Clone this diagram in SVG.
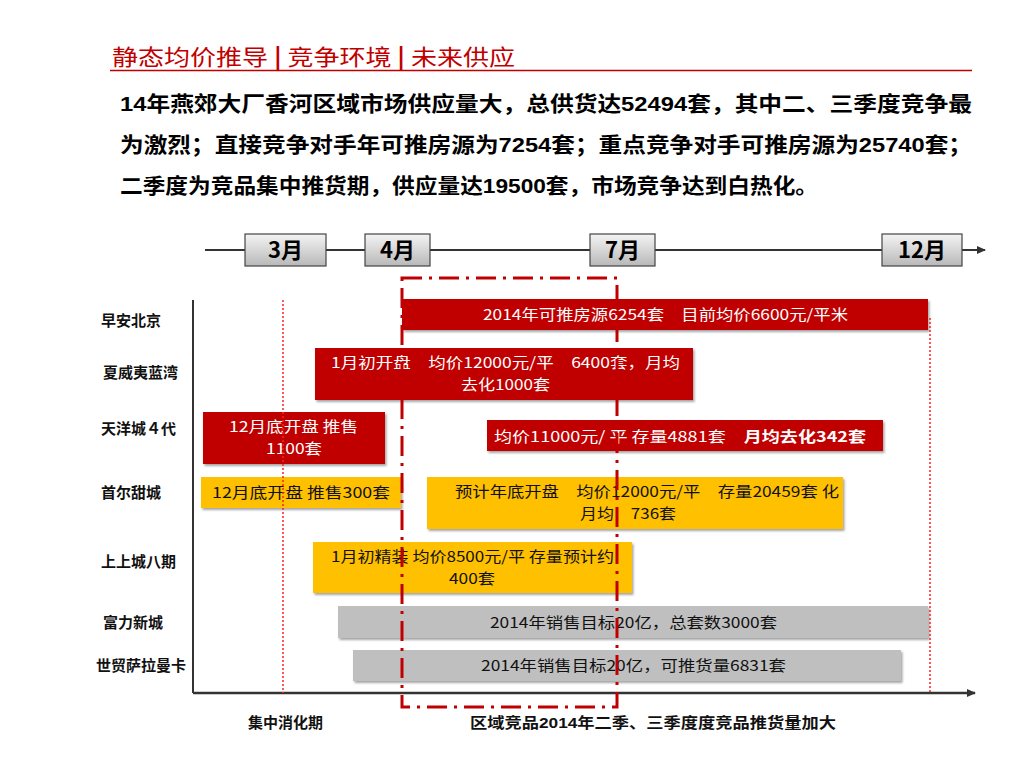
<svg xmlns="http://www.w3.org/2000/svg" width="1024" height="768" viewBox="0 0 1024 768">
<defs>
<linearGradient id="mg" x1="0" y1="0" x2="0" y2="1"><stop offset="0" stop-color="#f4f4f4"/><stop offset="1" stop-color="#b8b8b8"/></linearGradient>
<filter id="sh" x="-5%" y="-20%" width="110%" height="150%"><feDropShadow dx="1.5" dy="2" stdDeviation="1.2" flood-color="#000" flood-opacity="0.35"/></filter>
<marker id="ar" markerWidth="10" markerHeight="10" refX="8" refY="5" orient="auto" markerUnits="userSpaceOnUse"><path d="M0,1 L9,5 L0,9 Z" fill="#333"/></marker>
<style>
.cjk{font-family:"Noto Sans CJK SC","Liberation Sans",sans-serif}
.title{font-size:22px;fill:#c00000}
.body{font-size:21px;fill:#000;font-weight:bold}
.num{font-family:"Liberation Sans",sans-serif;font-weight:bold}
.lab{font-size:15px;fill:#111;font-weight:bold}
.bt{font-size:15px}
.w{fill:#fff}.k{fill:#111}
.red{fill:#c00000}.yel{fill:#ffc000}.gry{fill:#bfbfbf}
.mon{fill:url(#mg);stroke:#444;stroke-width:1.2}
.mt{font-size:22px;font-weight:bold;text-anchor:middle;fill:#000}
</style>
</defs>
<rect width="1024" height="768" fill="#fff"/>
<g id="title">
<text x="112" y="65" class="cjk title" textLength="403" lengthAdjust="spacingAndGlyphs">静态均价推导 <tspan font-weight="bold">|</tspan> 竞争环境 <tspan font-weight="bold">|</tspan> 未来供应</text>
<line x1="110" y1="70.5" x2="972" y2="70.5" stroke="#c00000" stroke-width="1.5"/>
</g>
<g id="summary">
<text x="120" y="111" class="cjk body" textLength="852" lengthAdjust="spacingAndGlyphs"><tspan class="num">14</tspan>年燕郊大厂香河区域市场供应量大，总供货达<tspan class="num">52494</tspan>套，其中二、三季度竞争最</text>
<text x="120" y="152" class="cjk body" textLength="852" lengthAdjust="spacingAndGlyphs">为激烈；直接竞争对手年可推房源为<tspan class="num">7254</tspan>套；重点竞争对手可推房源为<tspan class="num">25740</tspan>套；</text>
<text x="120" y="193" class="cjk body" textLength="698" lengthAdjust="spacingAndGlyphs">二季度为竞品集中推货期，供应量达<tspan class="num">19500</tspan>套，市场竞争达到白热化。</text>
</g>
<g id="connectors">
<line x1="205" y1="250" x2="985" y2="250" stroke="#333" stroke-width="2" marker-end="url(#ar)"/>
<line x1="193" y1="300" x2="193" y2="693" stroke="#333" stroke-width="2"/>
<line x1="193" y1="693" x2="975" y2="693" stroke="#333" stroke-width="2.5" marker-end="url(#ar)"/>
</g>
<g id="months">
<g id="m3"><rect x="245" y="234" width="81" height="32" class="mon"/><text x="285.5" y="258" class="cjk mt">3月</text></g>
<g id="m4"><rect x="365" y="234" width="65" height="32" class="mon"/><text x="397.5" y="258" class="cjk mt">4月</text></g>
<g id="m7"><rect x="590" y="234" width="65" height="32" class="mon"/><text x="622.5" y="258" class="cjk mt">7月</text></g>
<g id="m12"><rect x="882" y="234" width="80" height="32" class="mon"/><text x="922" y="258" class="cjk mt">12月</text></g>
</g>
<g id="labels">
<text x="101" y="326" class="cjk lab">早安北京</text>
<text x="103" y="378" class="cjk lab">夏威夷蓝湾</text>
<text x="101" y="434" class="cjk lab">天洋城４代</text>
<text x="101" y="498" class="cjk lab">首尔甜城</text>
<text x="101" y="567" class="cjk lab">上上城八期</text>
<text x="103" y="628" class="cjk lab">富力新城</text>
<text x="96" y="671" class="cjk lab">世贸萨拉曼卡</text>
</g>
<g id="bar-zaoan"><rect x="402" y="299" width="526" height="31" class="red" filter="url(#sh)"/><text x="483" y="320" class="cjk bt w" textLength="365" lengthAdjust="spacingAndGlyphs">2014年可推房源6254套　目前均价6600元/平米</text></g>
<g id="bar-xiaweiyi"><rect x="315" y="348" width="378" height="52" class="red" filter="url(#sh)"/><text x="331" y="368" class="cjk bt w" textLength="349" lengthAdjust="spacingAndGlyphs">1月初开盘　均价12000元/平　6400套，月均</text><text x="461" y="390" class="cjk bt w" textLength="89" lengthAdjust="spacingAndGlyphs">去化1000套</text></g>
<g id="bar-tianyang1"><rect x="203" y="412" width="182" height="52" class="red" filter="url(#sh)"/><text x="229" y="432" class="cjk bt w" textLength="129" lengthAdjust="spacingAndGlyphs">12月底开盘  推售</text><text x="266" y="454" class="cjk bt w" textLength="56" lengthAdjust="spacingAndGlyphs">1100套</text></g>
<g id="bar-tianyang2"><rect x="487" y="420" width="396" height="31" class="red" filter="url(#sh)"/><text x="494" y="442" class="cjk bt w" textLength="372" lengthAdjust="spacingAndGlyphs">均价11000元/  平  存量4881套　<tspan font-weight="bold">月均去化342套</tspan></text></g>
<g id="bar-shouer1"><rect x="201" y="477" width="200" height="31" class="yel" filter="url(#sh)"/><text x="212" y="498" class="cjk bt k" textLength="178" lengthAdjust="spacingAndGlyphs">12月底开盘  推售300套</text></g>
<g id="bar-shouer2"><rect x="427" y="477" width="416" height="52" class="yel" filter="url(#sh)"/><text x="455" y="497" class="cjk bt k" textLength="384" lengthAdjust="spacingAndGlyphs">预计年底开盘　均价12000元/平　存量20459套 化</text><text x="580" y="519" class="cjk bt k" textLength="96" lengthAdjust="spacingAndGlyphs">月均　736套</text></g>
<g id="bar-shangshang"><rect x="313" y="542" width="319" height="51" class="yel" filter="url(#sh)"/><text x="331" y="562" class="cjk bt k" textLength="283" lengthAdjust="spacingAndGlyphs">1月初精装 均价8500元/平 存量预计约</text><text x="449" y="584" class="cjk bt k" textLength="46" lengthAdjust="spacingAndGlyphs">400套</text></g>
<g id="bar-fuli"><rect x="338" y="606" width="590" height="32" class="gry" filter="url(#sh)"/><text x="490" y="628" class="cjk bt k" textLength="287" lengthAdjust="spacingAndGlyphs">2014年销售目标20亿，总套数3000套</text></g>
<g id="bar-shimao"><rect x="353" y="650" width="548" height="31" class="gry" filter="url(#sh)"/><text x="481" y="671" class="cjk bt k" textLength="305" lengthAdjust="spacingAndGlyphs">2014年销售目标20亿，可推货量6831套</text></g>
<g id="guides">
<line x1="283" y1="300" x2="283" y2="693" stroke="#ff2020" stroke-width="1.5" stroke-dasharray="2,2"/>
<line x1="930" y1="318" x2="930" y2="693" stroke="#ff2020" stroke-width="1.5" stroke-dasharray="2,2"/>
<rect x="402" y="278" width="215" height="429" fill="none" stroke="#c00000" stroke-width="3" stroke-dasharray="20,7,3,7"/>
</g>
<g id="bottom">
<text x="248" y="728" class="cjk" font-size="15" font-weight="bold" fill="#111">集中消化期</text>
<text x="470" y="728" class="cjk" font-size="15" font-weight="bold" fill="#111" textLength="366" lengthAdjust="spacingAndGlyphs">区域竞品<tspan class="num">2014</tspan>年二季、三季度度竞品推货量加大</text>
</g>
</svg>
